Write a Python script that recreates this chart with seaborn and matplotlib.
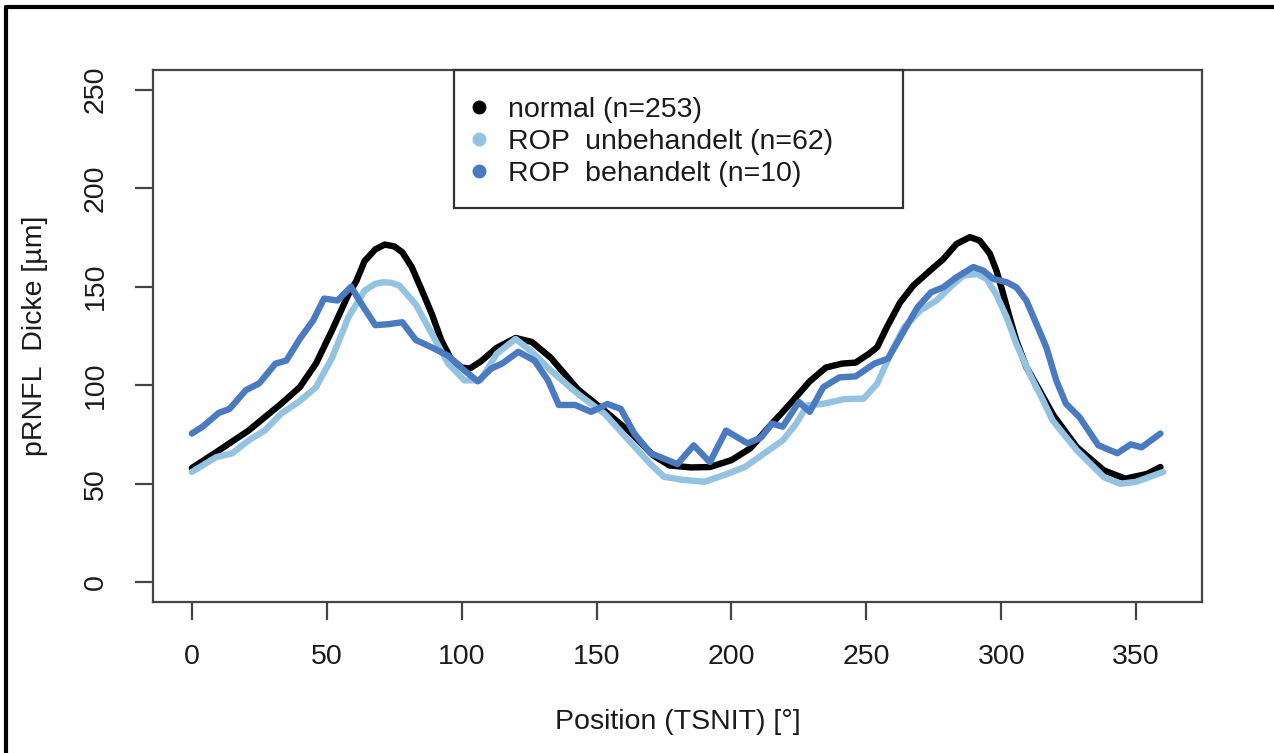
import matplotlib
matplotlib.use("Agg")
import matplotlib.pyplot as plt
import seaborn as sns
from matplotlib.lines import Line2D
from matplotlib.patches import Rectangle

# ---- data ----
normal_x = [0, 9, 21, 33, 40, 46, 52, 58, 61, 64, 68, 71.5, 75, 78, 81.5, 85, 89, 92.5, 96, 100,
            103, 107, 113, 120, 126, 133, 143, 153, 163, 171, 177, 185, 192, 200, 207, 214, 222,
            229, 235, 241, 246, 251, 254, 257.6, 262.5, 267.4, 273.6, 278.5, 283.4, 288.4, 292,
            295.8, 298.2, 300.7, 303.1, 305.6, 309.3, 314.2, 319.2, 328, 338, 346, 354, 359]
normal_y = [58, 66, 77, 90.5, 99, 111, 128, 146, 153, 163, 169, 171.4, 170.5, 167.5, 160, 149, 136, 122.7, 113.4, 109,
            108.5, 112, 119, 124, 122, 114, 98, 87, 75.5, 64.4, 59.3, 58.3, 58.5, 62, 68, 79, 91,
            102, 109, 111, 111.5, 116, 119.3, 129.5, 142, 150.6, 158.2, 164, 171.7, 175.2, 173.4,
            166.7, 158.2, 146.4, 134.5, 122.7, 109.2, 97.4, 85, 68.6, 56.8, 52.6, 55, 58.5]

unbeh_x = [0, 9, 15, 21, 27, 33, 40, 46, 52, 58, 64, 68, 71, 74, 77, 83, 89, 95, 101, 107,
           113, 120, 126, 133, 143, 153, 162, 170, 175, 182, 190, 197, 205, 212, 219, 224, 228,
           234, 242, 249, 254, 259, 264, 270, 276, 281, 286, 291, 294.5, 298, 302, 305.6, 310.5,
           315.5, 319, 328, 338, 344, 350, 360]
unbeh_y = [56, 63.5, 65.5, 72, 77, 85.5, 92, 99, 114, 134.5, 148, 151.5, 152.3, 152, 150.5, 141, 126, 111, 102.5, 102.5,
           116, 123.5, 117, 107.5, 95.7, 85.5, 72, 60, 53.5, 52, 51, 54.3, 58.5, 65.3, 72, 80.5, 89.8,
           90.6, 93, 93.2, 100.8, 116, 129.5, 138, 143, 149.7, 155.7, 156.5, 154, 146.4, 134.5, 121, 105.8,
           92.3, 82.2, 67, 53.4, 50, 51, 56]

beh_x = [0, 4, 10, 14, 20, 25, 31, 35, 40, 45, 49, 54, 59, 63, 68, 73, 78, 83, 90, 95,
         101, 106, 111, 115, 121, 127, 132, 136, 142, 148, 154, 159, 164, 170, 180, 186, 192,
         198, 206, 211, 215, 219, 225, 229, 234, 240, 246, 253, 258, 264, 269, 274, 278.5, 283.4,
         289.6, 293.3, 297, 302, 305.6, 309.3, 313, 316.7, 320.4, 324, 329, 336, 343, 348, 352, 359]
beh_y = [75.5, 79, 86, 88, 97.5, 101, 111, 112.5, 123.5, 133, 144, 143, 150, 141, 130.5, 131, 132, 123, 118.5, 115,
         107.5, 102, 108.5, 111, 117, 112.5, 102.5, 90, 90, 86.5, 90.5, 88, 75.5, 65.5, 60, 69.5, 61,
         77, 70.5, 73.5, 80.5, 79, 91.5, 86.5, 99, 104, 104.5, 111, 113.5, 127.8, 139.6, 147.2, 149.7, 154.8,
         160, 158.2, 154, 152.3, 149.7, 143, 131.2, 119.3, 102.4, 90.6, 83.8, 69.5, 65.5, 70, 68.5, 75.5]

labels = ["normal (n=253)", "ROP  unbehandelt (n=62)", "ROP  behandelt (n=10)"]
colors = ["#000000", "#94c3e2", "#4a7bc0"]
x_ticks = [0, 50, 100, 150, 200, 250, 300, 350]
y_ticks = [0, 50, 100, 150, 200, 250]
x_label = "Position (TSNIT) [°]"
y_label = "pRNFL  Dicke [µm]"

# ---- style ----
sns.set_theme(style="ticks")
plt.rcParams['font.family'] = ['Liberation Sans', 'DejaVu Sans']
FS = 20.5
W, H = 1274, 753

fig = plt.figure(figsize=(W / 100, H / 100), dpi=100)
ax = fig.add_axes([153 / W, 1 - 602 / H, (1202 - 153) / W, (602 - 70) / H])

series = [(normal_x, normal_y), (unbeh_x, unbeh_y), (beh_x, beh_y)]
for (xs, ys), c in zip(series, colors):
    sns.lineplot(x=xs, y=ys, ax=ax, color=c, linewidth=4.6, sort=False,
                 estimator=None, legend=False, solid_joinstyle="round",
                 solid_capstyle="round")

ax.set_xlim(-14.4, 374.4)
ax.set_ylim(-10, 260)
ax.set_xticks(x_ticks)
ax.set_yticks(y_ticks)
ax.set_xticklabels([str(v) for v in x_ticks])
ax.set_yticklabels([str(v) for v in y_ticks], rotation=90, va="center")

axis_col = "#444444"
for sp in ax.spines.values():
    sp.set_visible(True)
    sp.set_color(axis_col)
    sp.set_linewidth(1.6)
ax.tick_params(axis="both", direction="out", length=13, width=1.6, color=axis_col,
               labelsize=FS, labelcolor="#1a1a1a")
ax.tick_params(axis="x", pad=17)
ax.tick_params(axis="y", pad=19)

ax.set_xlabel(x_label, fontsize=FS, color="#1a1a1a")
ax.set_ylabel(y_label, fontsize=FS, color="#1a1a1a")
ax.xaxis.set_label_coords(0.5, (602 - 709) / 532)
ax.yaxis.set_label_coords((48 - 153) / 1049, 0.5)

# legend
handles = [Line2D([], [], marker="o", linestyle="", color=c, markersize=9) for c in colors]
fig.legend(handles, labels, loc="upper left", bbox_to_anchor=(465 / W, 1 - 97 / H),
           bbox_transform=fig.transFigure, frameon=False, fontsize=FS, borderpad=0,
           borderaxespad=0, handlelength=1.0, handletextpad=0.5, labelspacing=0.21,
           labelcolor="#1a1a1a")
fig.add_artist(Rectangle((454 / W, 1 - 208 / H), (903 - 454) / W, (208 - 70) / H,
                         transform=fig.transFigure, fill=False, edgecolor="#333333", lw=1.6))

# outer frame (cropped border of the original figure)
fig.add_artist(Line2D([6 / W, 1], [1 - 7 / H, 1 - 7 / H], transform=fig.transFigure,
                      color="black", lw=3))
fig.add_artist(Line2D([6 / W, 6 / W], [0, 1 - 7 / H], transform=fig.transFigure,
                      color="black", lw=3))

fig.savefig("out.png", dpi=100)
